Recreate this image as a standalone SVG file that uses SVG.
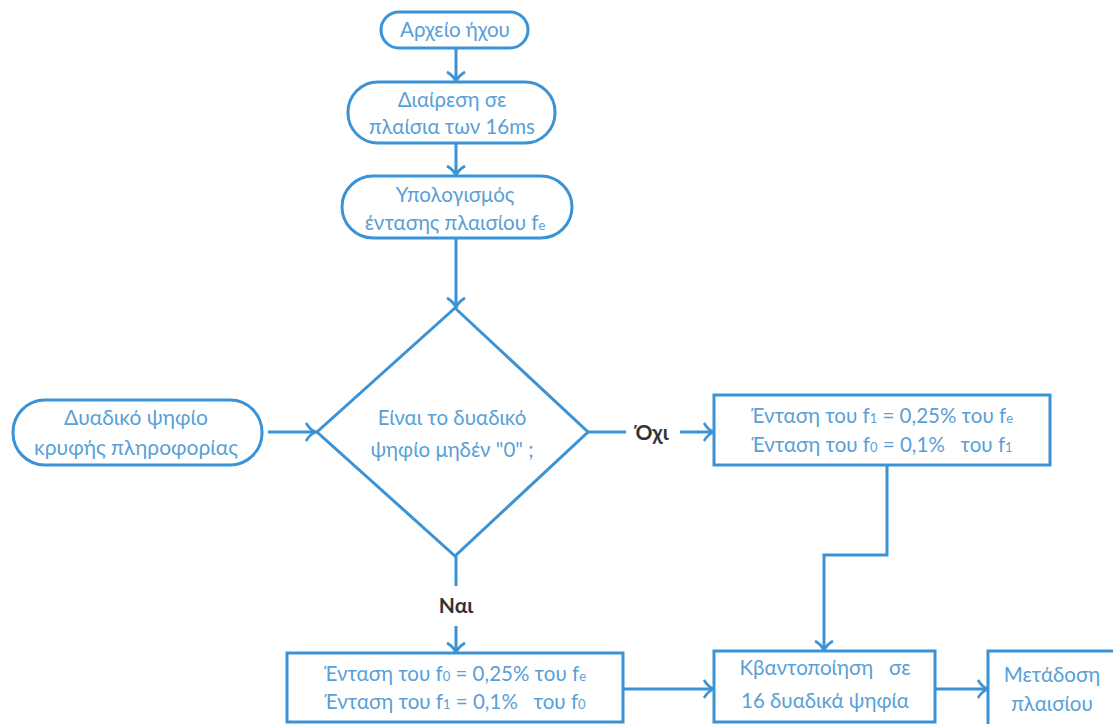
<svg xmlns="http://www.w3.org/2000/svg" width="1113" height="724" viewBox="0 0 1113 724">
<defs>
<style>
.s{fill:#fff;stroke:#3a93d6;stroke-width:3}
.c{fill:none;stroke:#3a93d6;stroke-width:3}
.t{font-family:Lato,"Noto Sans","DejaVu Sans",sans-serif;font-size:20.5px;fill:#5a9fd6;text-anchor:middle;white-space:pre}
.sub{font-size:13px}
.l{font-family:Lato,"Noto Sans","DejaVu Sans",sans-serif;font-size:21px;font-weight:bold;fill:#333;text-anchor:middle}
</style>
<marker id="a" viewBox="0 0 20 20" refX="18" refY="10" markerWidth="20" markerHeight="20" markerUnits="userSpaceOnUse" orient="auto">
<path d="M8,1 Q12,8 18,10 Q12,12 8,19" fill="none" stroke="#3a93d6" stroke-width="2.6"/>
</marker>
</defs>
<g id="connectors">
<line class="c" x1="456" y1="48" x2="456" y2="82" marker-end="url(#a)"/>
<line class="c" x1="456" y1="143" x2="456" y2="176" marker-end="url(#a)"/>
<line class="c" x1="456" y1="238" x2="456" y2="308" marker-end="url(#a)"/>
<line class="c" x1="268" y1="432" x2="316" y2="432" marker-end="url(#a)"/>
<line class="c" x1="588" y1="432" x2="626" y2="432"/>
<line class="c" x1="680" y1="432" x2="714" y2="432" marker-end="url(#a)"/>
<polyline class="c" points="887,465 887,555 824,555 824,651" marker-end="url(#a)"/>
<line class="c" x1="456" y1="556" x2="456" y2="586"/>
<line class="c" x1="456" y1="626" x2="456" y2="653" marker-end="url(#a)"/>
<line class="c" x1="623" y1="689" x2="714" y2="689" marker-end="url(#a)"/>
<line class="c" x1="935" y1="689" x2="988" y2="689" marker-end="url(#a)"/>
<text class="l" x="652" y="440">Όχι</text>
<text class="l" x="456" y="613">Ναι</text>
</g>
<g id="n1">
<rect class="s" x="381" y="12" width="147" height="36" rx="18"/>
<text class="t" x="455" y="37">Αρχείο ήχου</text>
</g>
<g id="n2">
<rect class="s" x="348" y="82" width="207" height="61" rx="30"/>
<text class="t" x="452" y="107">Διαίρεση σε</text>
<text class="t" x="452" y="134">πλαίσια των 16ms</text>
</g>
<g id="n3">
<rect class="s" x="342" y="176" width="230" height="62" rx="31"/>
<text class="t" x="455" y="202">Υπολογισμός</text>
<text class="t" x="455" y="230">έντασης πλαισίου f<tspan class="sub">e</tspan></text>
</g>
<g id="n4">
<polygon class="s" points="455,308 588,432 455,556 317,432"/>
<text class="t" x="452" y="425">Είναι το δυαδικό</text>
<text class="t" x="452" y="457">ψηφίο μηδέν "0" ;</text>
</g>
<g id="n5">
<rect class="s" x="13" y="400" width="249" height="65" rx="32"/>
<text class="t" x="136" y="425" style="font-size:21px">Δυαδικό ψηφίο</text>
<text class="t" x="136" y="455" style="font-size:21px">κρυφής πληροφορίας</text>
</g>
<g id="n6">
<rect class="s" x="714" y="395" width="336" height="70"/>
<text class="t" x="882" y="423" xml:space="preserve">Ένταση του f<tspan class="sub">1</tspan> = 0,25% του f<tspan class="sub">e</tspan></text>
<text class="t" x="882" y="452" xml:space="preserve">Ένταση του f<tspan class="sub">0</tspan> = 0,1%   του f<tspan class="sub">1</tspan></text>
</g>
<g id="n7">
<rect class="s" x="287" y="653" width="336" height="69"/>
<text class="t" x="455" y="681" xml:space="preserve">Ένταση του f<tspan class="sub">0</tspan> = 0,25% του f<tspan class="sub">e</tspan></text>
<text class="t" x="455" y="709" xml:space="preserve">Ένταση του f<tspan class="sub">1</tspan> = 0,1%   του f<tspan class="sub">0</tspan></text>
</g>
<g id="n8">
<rect class="s" x="714" y="651" width="221" height="71"/>
<text class="t" x="825" y="675" xml:space="preserve">Κβαντοποίηση   σε</text>
<text class="t" x="825" y="708">16 δυαδικά ψηφία</text>
</g>
<g id="n9">
<rect class="s" x="988" y="651" width="130" height="75"/>
<text class="t" x="1052" y="682">Μετάδοση</text>
<text class="t" x="1052" y="711">πλαισίου</text>
</g>
</svg>
